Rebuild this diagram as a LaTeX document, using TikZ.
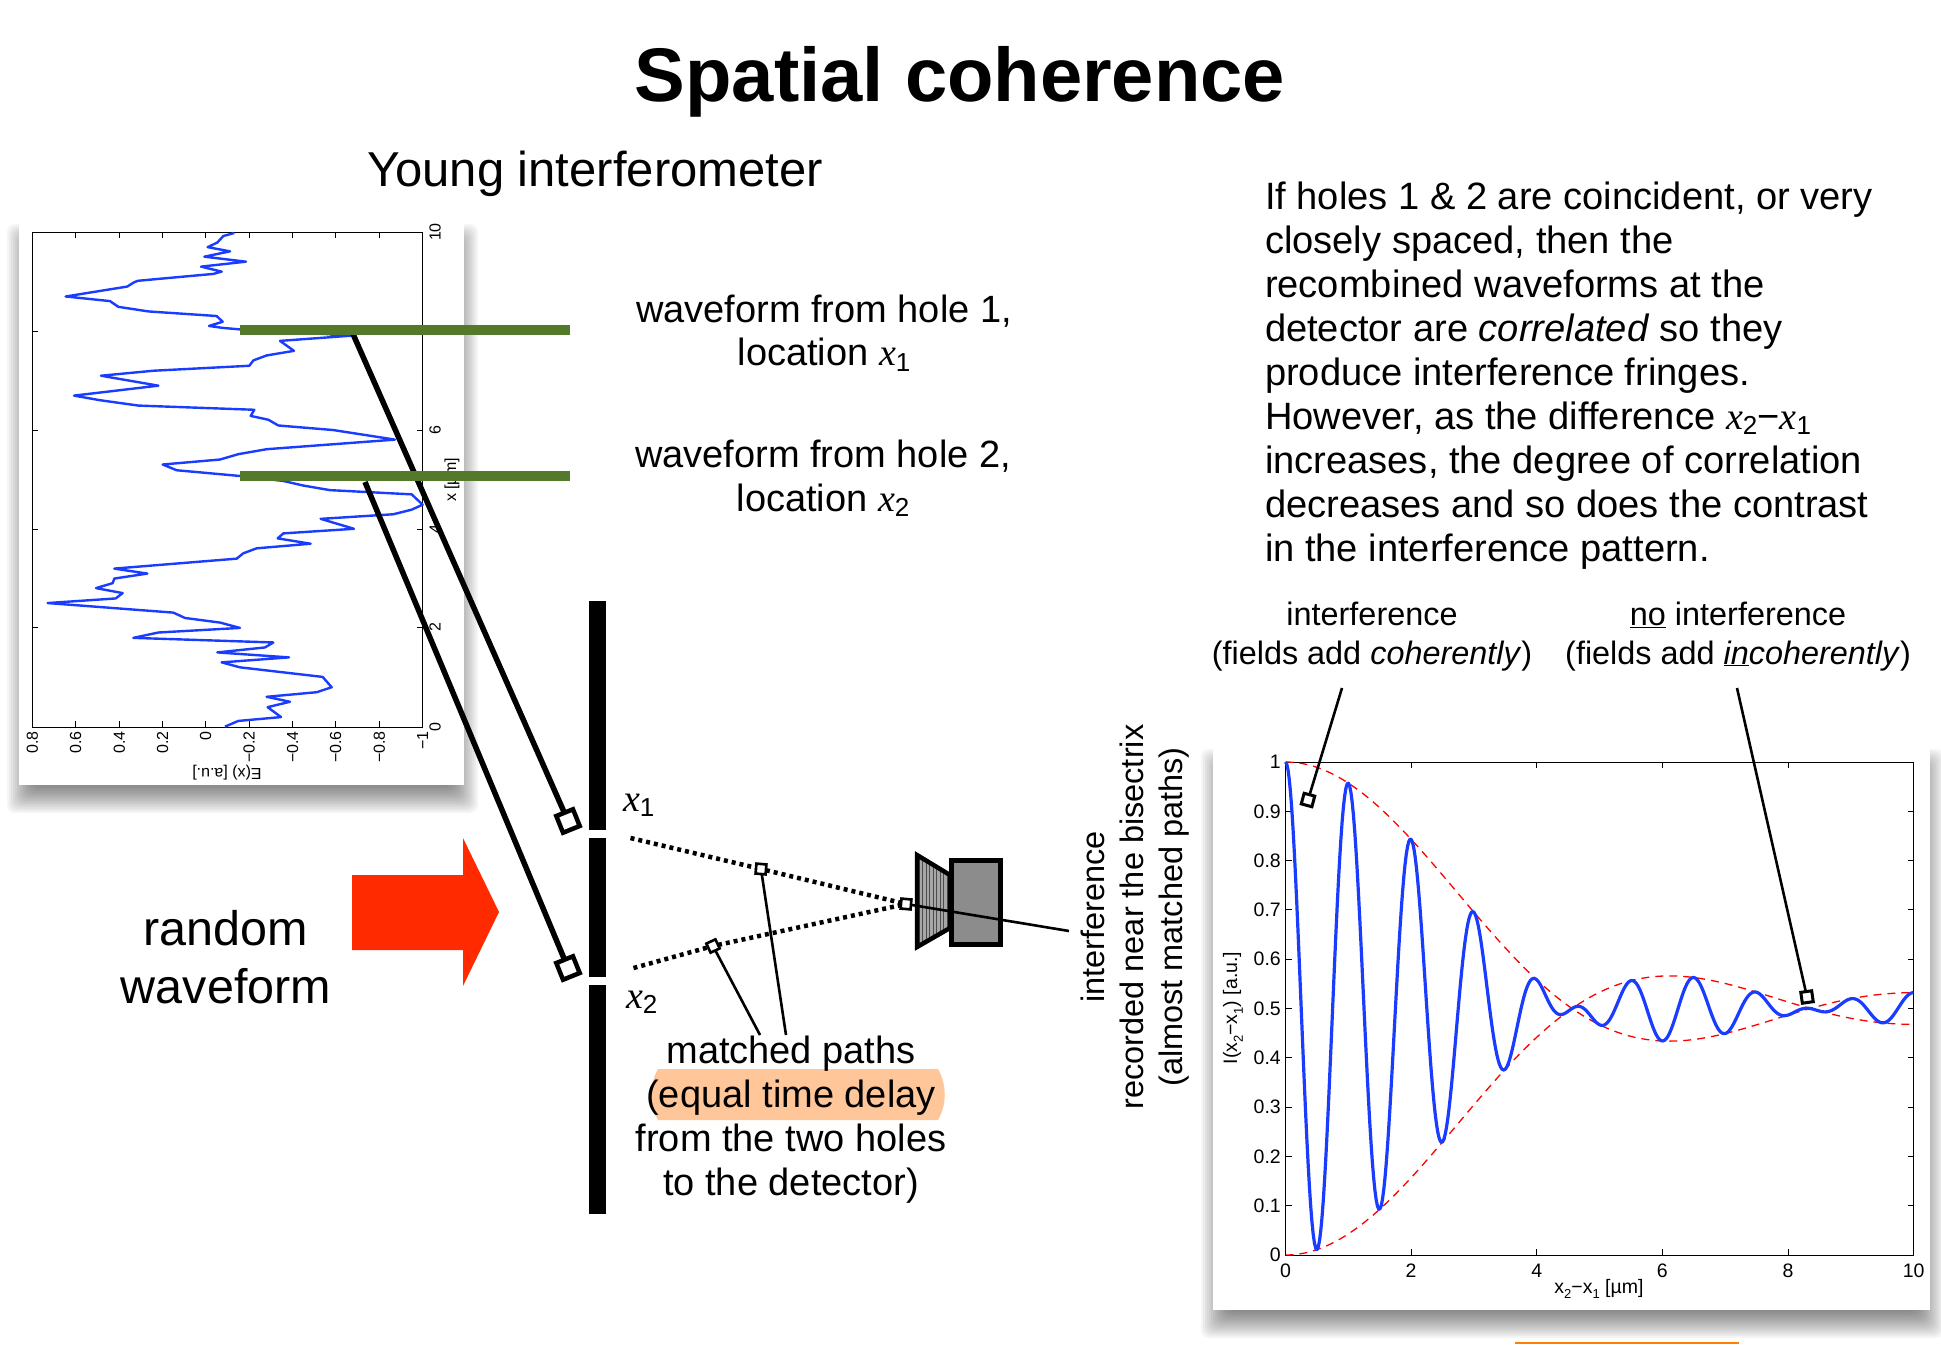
\documentclass[tikz,border=0pt]{standalone}
\usepackage{fontspec}
\setmainfont{Liberation Sans}
\newfontfamily\tfam{Liberation Serif}
\newcommand\xs[1]{{\tfam\itshape x}\raisebox{-.15em}{\fontsize{26}{26}\selectfont #1}}
\newcommand\sbx[1]{\raisebox{-.3em}{\fontsize{13}{13}\selectfont #1}}
\newcommand\softshadow[4]{%
  \foreach \k in {0,2,...,26}{
    \fill[black,opacity=.04,rounded corners=8pt]
      ({#1-12+\k},{#2+4+\k}) rectangle ({#3+14-\k},{#4+28-\k});
  }
}
\definecolor{barg}{HTML}{54792B}
\definecolor{cblue}{HTML}{1A3CFF}
\definecolor{arrred}{HTML}{FF2A00}
\definecolor{hl}{HTML}{FFC69A}
\definecolor{botor}{HTML}{FF7F00}
\tikzset{
  declare function={
    bnear(\t)=2*(0.5+\t*(-0.56249985+\t*(0.21093573+\t*(-0.03954289+\t*(0.00443319+\t*(-0.00031761+\t*0.00001109))))));
    bfarf(\v)=0.79788456+\v*(0.00000156+\v*(0.01659667+\v*(0.00017105+\v*(-0.00249511+\v*(0.00113653-\v*0.00020033)))));
    bfart(\v)=\v*(0.12499612+\v*(0.0000565+\v*(-0.00637879+\v*(0.00074348+\v*(0.00079824-\v*0.00029166)))));
    bfar(\u)=2/\u/sqrt(\u)*bfarf(3/\u)*cos(deg(\u-2.35619449+bfart(3/\u)));
    gam(\x)=(\x*0.84<3)?bnear((min(\x*0.84,3)/3)^2):bfar(max(\x*0.84,3));
  },
  lbl/.style={inner sep=0pt,outer sep=0pt,anchor=base},
  body/.style={lbl,align=center,font=\fontsize{38}{43.5}\selectfont},
  small/.style={lbl,align=center,font=\fontsize{32.4}{39}\selectfont},
  tickl/.style={inner sep=0pt,font=\fontsize{16}{16}\selectfont,rotate=90},
  tickr/.style={inner sep=0pt,font=\fontsize{19.5}{19.5}\selectfont},
  frameax/.style={draw=black,line width=1pt},
  tickmark/.style={draw=black,line width=1pt},
  greenbar/.style={fill=barg,draw=none},
  fat/.style={draw=black,line width=5.5pt},
  thinl/.style={draw=black,line width=2.6pt},
  dots/.style={draw=black,line width=4.5pt,dash pattern=on 4pt off 4pt},
  hole/.style={draw=black,fill=white,line width=4.5pt,minimum size=18pt,inner sep=0pt,outer sep=0pt},
  mini/.style={draw=black,fill=white,line width=2.6pt,minimum size=10pt,inner sep=0pt,outer sep=0pt},
  barrier/.style={fill=black,draw=none},
}
\begin{document}
\begin{tikzpicture}[x=1pt,y=-1pt]
\useasboundingbox (0,0) rectangle (1941,1344);
\fill[white] (0,0) rectangle (1941,1344);

% panels
\softshadow{19}{220}{464}{785}
\fill[white] (19,220) rectangle (464,785);
\softshadow{1213}{745}{1930}{1310}
\fill[white] (1213,745) rectangle (1930,1310);
\fill[botor] (1515,1342) rectangle (1739,1344);

% title
\node[lbl,font=\fontsize{76}{76}\selectfont\bfseries] (title) at (960,101) {Spatial coherence};
\node[lbl,font=\fontsize{49}{49}\selectfont] (young) at (595,186) {Young interferometer};

% left plot
\draw[frameax] (32.3,232) rectangle (422.7,727);
\foreach \x/\l [count=\n] in {32.3/0.8,75.7/0.6,119.3/0.4,162.7/0.2,205.7/0,249/−0.2,292.7/−0.4,335.7/−0.6,379.3/−0.8,422.7/−1}{
  \draw[tickmark] (\x,232) -- (\x,238);
  \draw[tickmark] (\x,727) -- (\x,721);
  \node[tickl,anchor=east] (le\n) at (\x,731) {\l};
}
\foreach \y/\l [count=\n] in {232/10,331/8,430/6,529/4,627/2,727/0}{
  \draw[tickmark] (32.3,\y) -- (38.3,\y);
  \draw[tickmark] (422.7,\y) -- (416.7,\y);
  \node[tickl,anchor=center] (lx\n) at (435,\y) {\l};
}
\node[tickl,rotate=90,anchor=center] (lxlab) at (227,773) {E(x) [a.u.]};
\node[tickl,anchor=center] (lylab) at (452,480) {x [µm]};
\begin{scope}[x=0.33333pt,y=-0.3827pt,yshift=-210pt]
\draw[cblue,line width=2.4pt,line join=round] (703,60)--(670,68)--(652,85)--(623,97)--(690,108)--(613,122)--(738,135)--(603,148)--(665,161)--(640,167)--(413,185)--(400,190)--(382,200)--(197,226)--(330,238)--(355,253)--(445,265)--(650,277)--(668,292)--(627,303)--(668,308)--(720,312)--(1060,328)--(840,342)--(882,368)--(800,380)--(760,393)--(748,407)--(460,420)--(303,433)--(475,459)--(222,485)--(300,497)--(415,511)--(763,522)--(752,538)--(805,548)--(835,563)--(1000,575)--(1185,600)--(800,625)--(715,638)--(660,652)--(488,665)--(530,680)--(720,695)--(850,708)--(910,720)--(990,732)--(1235,743)--(1268,770)--(1235,783)--(1180,795)--(962,807)--(1062,833)--(850,845)--(833,858)--(932,872)--(770,884)--(730,897)--(710,911)--(343,937)--(442,950)--(343,963)--(338,975)--(288,988)--(368,1001)--(347,1015)--(143,1027)--(520,1052)--(555,1066)--(660,1078)--(720,1092)--(475,1104)--(400,1118)--(820,1130)--(795,1143)--(652,1156)--(867,1169)--(665,1182)--(720,1195)--(968,1220)--(995,1247)--(950,1260)--(800,1272)--(870,1285)--(803,1299)--(843,1325)--(715,1335)--(675,1350);
\end{scope}

% barrier
\fill[barrier] (589,601) rectangle (606,830);
\fill[barrier] (589,838) rectangle (606,977);
\fill[barrier] (589,985) rectangle (606,1214);

% hole markers and long lines
\coordinate (c1) at (353,334);
\coordinate (c2) at (365,482);
\node[hole,rotate=22] (h1) at (568,821) {};
\node[hole,rotate=22] (h2) at (568,968) {};
\draw[fat] (c1) -- (h1);
\draw[fat] (c2) -- (h2);

% green bars
\fill[greenbar] (240,325) rectangle (570,335);
\fill[greenbar] (240,471) rectangle (570,481);

% labels top
\node[body] (w1) at (824,365.5) {waveform from hole 1,\\location \xs{1}};
\node[body] (w2) at (823,511) {waveform from hole 2,\\location \xs{2}};
\node[lbl,anchor=base west,align=left,font=\fontsize{38.1}{43.95}\selectfont] (para) at (1265,561) {If holes 1 \& 2 are coincident, or very\\closely spaced, then the\\recombined waveforms at the\\detector are \textit{correlated} so they\\produce interference fringes.\\However, as the difference \xs{2}−\xs{1}\\increases, the degree of correlation\\decreases and so does the contrast\\in the interference pattern.};

% x labels
\node[lbl,anchor=base west,font=\fontsize{38}{38}\selectfont] (x1) at (623,811) {\xs{1}};
\node[lbl,anchor=base west,font=\fontsize{38}{38}\selectfont] (x2) at (626,1008) {\xs{2}};

% random waveform
\fill[arrred] (352,875) -- (463,875) -- (463,838) -- (499,912) -- (463,986) -- (463,950) -- (352,950) -- cycle;
\node[lbl,align=center,font=\fontsize{48.5}{58}\selectfont] (rand) at (226,1003) {random\\waveform};

% detector
\coordinate (t0) at (906,904);
\begin{scope}
\clip (917,855) -- (950,875) -- (950,928) -- (917,947) -- cycle;
\fill[gray!70] (915,850) rectangle (952,950);
\foreach \q in {919,922.5,...,950}{\draw[black!70,line width=1pt] (\q,850) -- (\q,950);}
\end{scope}
\draw[black,line width=4.5pt,miter limit=10] (917,855) -- (950,875) -- (950,928) -- (917,947) -- cycle;
\filldraw[fill=black!45,draw=black,line width=5.5pt] (951.5,860.5) rectangle (1000.5,944.5);

% dotted paths
\coordinate (d1) at (630.5,838);
\coordinate (d2) at (633.5,968);
\node[mini,rotate=-5] (m1) at (761,869) {};
\node[mini,rotate=25] (m2) at (713,946) {};
\node[mini,rotate=-5] (tp) at (t0) {};
\draw[dots] (d1) -- (m1) -- (tp);
\draw[dots] (d2) -- (m2) -- (tp);

% highlight + text
\fill[hl] (658,1069) -- (938,1069) .. controls (947,1085) and (947,1104) .. (938,1120) -- (658,1120) .. controls (649,1104) and (649,1085) .. (658,1069) -- cycle;
\node[lbl,align=center,font=\fontsize{38}{43.7}\selectfont] (matched) at (791,1195) {matched paths\\(equal time delay\\from the two holes\\to the detector)};
\coordinate (mt1) at (786,1035);
\coordinate (mt2) at (760,1035);
\draw[thinl] (m1) -- (mt1);
\draw[thinl] (m2) -- (mt2);
\coordinate (il) at (1069,931);
\draw[thinl] (tp) -- (il);

% rotated labels
\node[lbl,rotate=90,align=center,font=\fontsize{32.5}{39}\selectfont,anchor=center] (rec) at (1135,917) {interference\\recorded near the bisectrix\\(almost matched paths)};

% small labels
\node[small] (inl) at (1372,664) {interference\\(fields add \textit{coherently})};
\node[small] (nol) at (1738,664) {\underline{no} interference\\(fields add \textit{\underline{in}coherently})};

% right plot
\draw[frameax] (1285.5,762) rectangle (1913.6,1255);
\foreach \i in {0,...,10}{
  \pgfmathsetmacro\yy{1255-49.3*\i}
  \draw[tickmark] (1285.5,\yy) -- (1291.5,\yy);
  \draw[tickmark] (1913.6,\yy) -- (1907.6,\yy);
}
\foreach \yy/\l [count=\n] in {1255/0,1205.7/0.1,1156.4/0.2,1107.1/0.3,1057.8/0.4,1008.5/0.5,959.2/0.6,909.9/0.7,860.6/0.8,811.3/0.9,762/1}{
  \node[tickr,anchor=east] (ry\n) at (1281,\yy) {\l};
}
\foreach \v/\l [count=\n] in {0/0,2/2,4/4,6/6,8/8,10/10}{
  \pgfmathsetmacro\xx{1285.5+62.81*\v}
  \draw[tickmark] (\xx,1255) -- (\xx,1249);
  \draw[tickmark] (\xx,762) -- (\xx,768);
  \node[tickr,anchor=base] (rx\n) at (\xx,1277) {\l};
}
\node[tickr,anchor=base] (rxlab) at (1599,1293) {x\sbx{2}−x\sbx{1} [µm]};
\node[tickr,rotate=90,anchor=base] (rylab) at (1237,1008) {I(x\sbx{2}−x\sbx{1}) [a.u.]};

\draw[red,line width=1.3pt,dash pattern=on 8pt off 6pt] plot[domain=0:10,samples=120,smooth] ({1285.5+62.81*\x},{1255-493*(0.5+0.5*gam(\x))});
\draw[red,line width=1.3pt,dash pattern=on 8pt off 6pt] plot[domain=0:10,samples=120,smooth] ({1285.5+62.81*\x},{1255-493*(0.5-0.5*gam(\x))});
\draw[cblue,line width=3.2pt,line join=round] plot[domain=0:10,samples=500] ({1285.5+62.81*\x},{1255-493*(0.5+0.5*gam(\x)*cos(360*\x))});

% callouts
\coordinate (ca) at (1342,688);
\coordinate (cb) at (1737,688);
\node[mini,line width=3pt,minimum size=11pt,rotate=-15] (sa) at (1308,800) {};
\node[mini,line width=3pt,minimum size=11pt,rotate=8] (sb) at (1807,997) {};
\draw[thinl] (ca) -- (sa);
\draw[thinl] (cb) -- (sb);
\end{tikzpicture}
\end{document}
